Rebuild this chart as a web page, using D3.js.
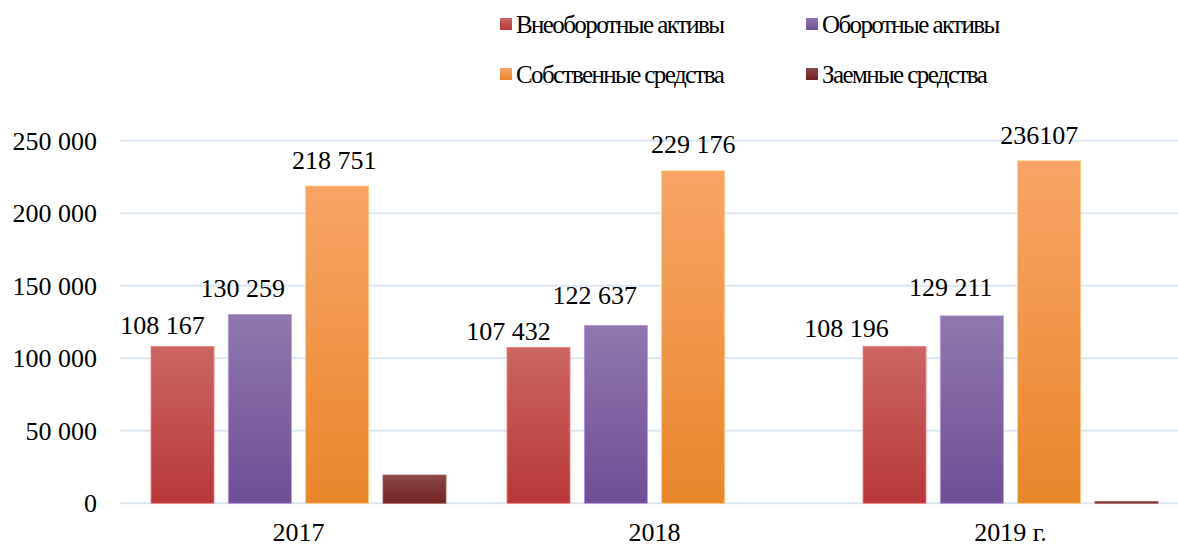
<!DOCTYPE html>
<html>
<head>
<meta charset="utf-8">
<script src="https://cdn.jsdelivr.net/npm/d3@7"></script>
<style>
  body { margin: 0; background: #fff; }
</style>
</head>
<body>
<svg id="chart" width="1178" height="547"></svg>
<script>
// data
const years = ["2017", "2018", "2019 г."];
const series = ["Внеоборотные активы", "Оборотные активы", "Собственные средства", "Заемные средства"];
const vneoborotnye = [108167, 107432, 108196];
const oborotnye = [130259, 122637, 129211];
const sobstvennye = [218751, 229176, 236107];
const zaemnye = [19500, 0, 1200];
const labelTexts = [
  ["108 167", "107 432", "108 196"],
  ["130 259", "122 637", "129 211"],
  ["218 751", "229 176", "236107"],
  null
];
const yTicks = [0, 50000, 100000, 150000, 200000, 250000];

const values = [vneoborotnye, oborotnye, sobstvennye, zaemnye];
const colors = [
  ["#cb6662", "#b8383a"],
  ["#9078ad", "#6e4e96"],
  ["#f9a466", "#e8862b"],
  ["#8b4848", "#742222"]
];
const FONT = "'Liberation Serif', Tinos, 'Times New Roman', 'DejaVu Serif', serif";

// hand placed data labels in the original (dx from bar centre, gap above bar)
const labelShift = [
  [[-20, 12], [-30, 7], [-48, 9]],
  [[-17, 17], [-21, 21], [-21, 20]],
  [[-3, 17], [0, 18], [-10, 17]]
];

const svg = d3.select("#chart").attr("font-family", FONT);
const defs = svg.append("defs");
colors.forEach(function(c, i) {
  const g = defs.append("linearGradient").attr("id", "grad" + i)
    .attr("x1", 0).attr("y1", 0).attr("x2", 0).attr("y2", 1);
  g.append("stop").attr("offset", "0%").attr("stop-color", c[0]);
  g.append("stop").attr("offset", "100%").attr("stop-color", c[1]);
});

const y = d3.scaleLinear().domain([0, 250000]).range([503.3, 140.7]);
const x0 = d3.scaleBand().domain(years).range([121, 1189]).padding(0);
const x1 = d3.scaleBand().domain(series).range([30, 325]).paddingInner(0.185).paddingOuter(0);

// gridlines
svg.append("g").selectAll("line").data(yTicks).enter().append("line")
  .attr("x1", 120).attr("x2", 1178)
  .attr("y1", function(d) { return y(d); })
  .attr("y2", function(d) { return y(d); })
  .attr("stroke", "#dde7f3").attr("stroke-width", 2);

// y labels
const fmt = function(d) { return d3.format(",")(d).replace(/,/g, " "); };
svg.append("g").selectAll("text").data(yTicks).enter().append("text")
  .attr("x", 97).attr("y", function(d) { return y(d); })
  .attr("dy", "0.35em")
  .attr("text-anchor", "end")
  .attr("font-family", FONT)
  .attr("font-size", 26)
  .text(fmt);

// bars
series.forEach(function(s, si) {
  svg.append("g").selectAll("rect").data(values[si]).enter().append("rect")
    .attr("x", function(d, i) { return x0(years[i]) + x1(s); })
    .attr("width", x1.bandwidth())
    .attr("y", function(d) { return y(d); })
    .attr("height", function(d) { return y(0) - y(d); })
    .attr("fill", "url(#grad" + si + ")")
    .attr("stroke", d3.color(colors[si][0]).brighter(0.6))
    .attr("stroke-width", 0.8);

  if (labelTexts[si]) {
    svg.append("g").selectAll("text").data(values[si]).enter().append("text")
      .attr("x", function(d, i) { return x0(years[i]) + x1(s) + x1.bandwidth() / 2 + labelShift[si][i][0]; })
      .attr("y", function(d, i) { return y(d) - labelShift[si][i][1]; })
      .attr("text-anchor", "middle")
      .attr("font-family", FONT)
      .attr("font-size", 26)
      .text(function(d, i) { return labelTexts[si][i]; });
  }
});

// x labels
svg.append("g").selectAll("text").data(years).enter().append("text")
  .attr("x", function(d) { return x0(d) + 30 + 295 / 2; })
  .attr("y", 541)
  .attr("text-anchor", "middle")
  .attr("font-family", FONT)
  .attr("font-size", 26)
  .text(function(d) { return d; });

// legend (text is condensed in the original)
const legendPos = [[500, 18], [806, 18], [500, 68], [806, 68]];
const legend = svg.append("g").selectAll("g").data(series).enter().append("g")
  .attr("transform", function(d, i) { return "translate(" + legendPos[i][0] + "," + legendPos[i][1] + ")"; });
legend.append("rect").attr("width", 12).attr("height", 12)
  .attr("fill", function(d, i) { return "url(#grad" + i + ")"; });
legend.append("text").attr("x", 16).attr("y", 15)
  .attr("font-family", FONT)
  .attr("font-size", 25)
  .attr("letter-spacing", -1.6)
  .text(function(d) { return d; });
</script>
</body>
</html>
